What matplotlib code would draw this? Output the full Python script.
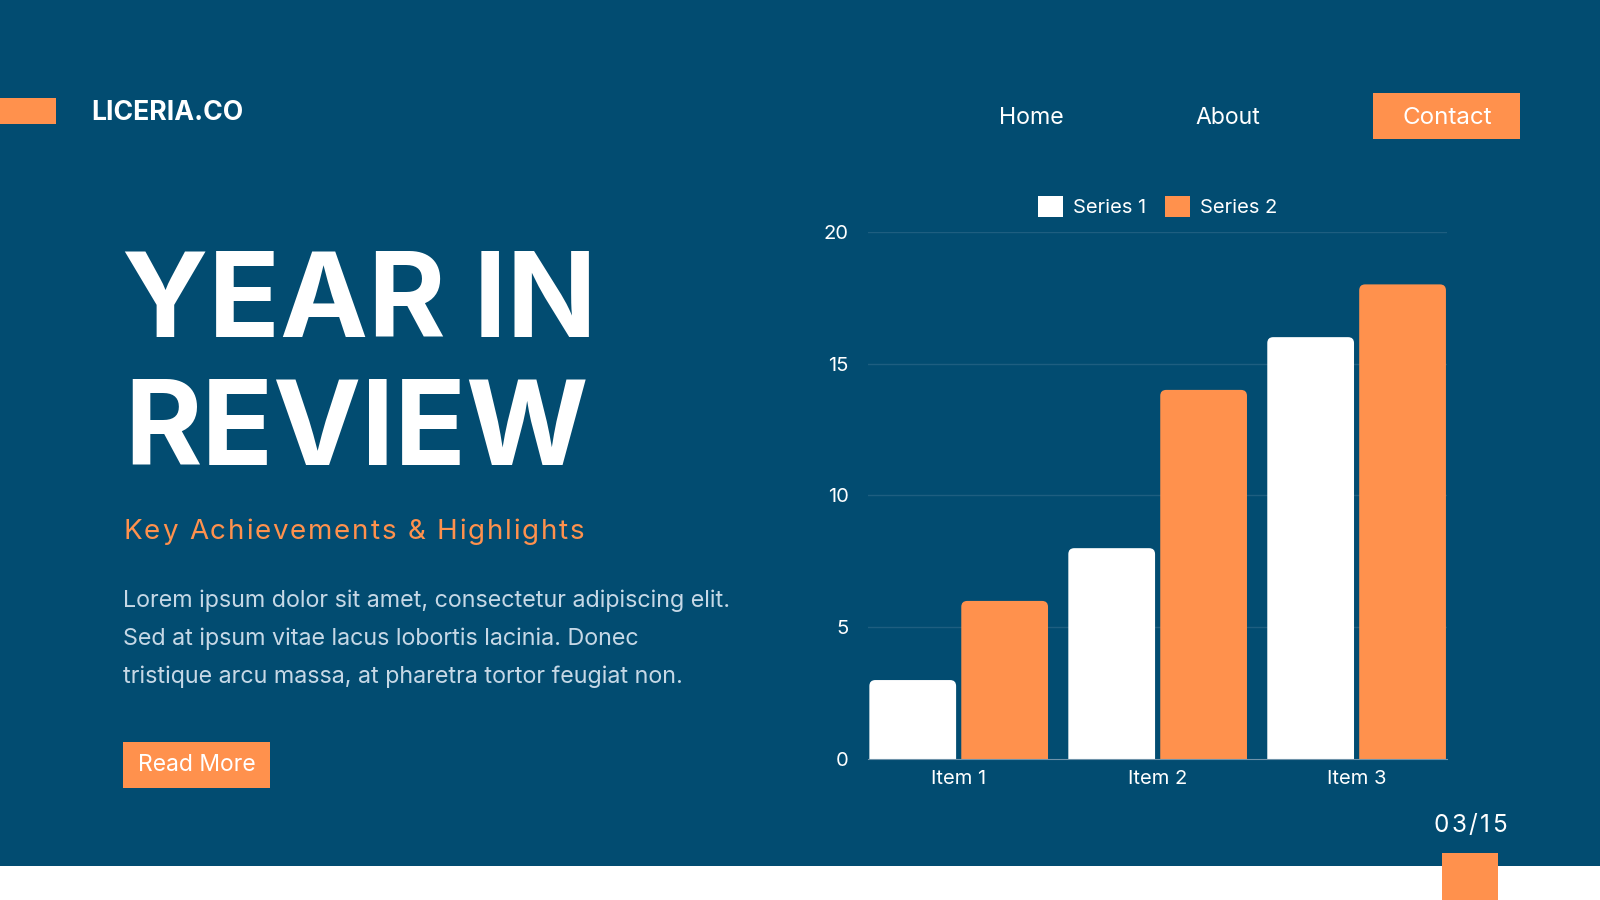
import numpy as np
import matplotlib
matplotlib.use("Agg")
import matplotlib.pyplot as plt
from matplotlib.patches import Rectangle, FancyBboxPatch

# reference canvas size (layout is written in these pixel units)
W, H = 1568, 882
S = 1600 / W

items = ["Item 1", "Item 2", "Item 3"]
series1 = [3, 8, 16]
series2 = [6, 14, 18]
series_names = ["Series 1", "Series 2"]
yticks = [0, 5, 10, 15, 20]
nav_links = ["Home", "About"]
para = ["Lorem ipsum dolor sit amet, consectetur adipiscing elit.",
        "Sed at ipsum vitae lacus lobortis lacinia. Donec",
        "tristique arcu massa, at pharetra tortor feugiat non."]

NAVY = "#024C71"
ORANGE = "#FF914D"
PARA = "#C6D8E6"
GRID = "#1E5E80"

plt.rcParams["font.family"] = ["Inter", "DejaVu Sans"]

fig = plt.figure(figsize=(16, 9), dpi=100, facecolor=NAVY)
bg = fig.add_axes([0, 0, 1, 1])
bg.set_xlim(0, W)
bg.set_ylim(H, 0)
bg.axis("off")
rend = fig.canvas.get_renderer()


def width_of(s, fs, **kw):
    t = bg.text(0, 0, s, fontsize=fs, **kw)
    w = t.get_window_extent(rend).width / S
    t.remove()
    return w


def fit(s, x0, x1, y, va="baseline", fs=None, **kw):
    # scale font so the text spans x0..x1
    if fs is None:
        fs = 10 * (x1 - x0) / width_of(s, 10, **kw)
    bg.text(x0, y, s, fontsize=fs, va=va, ha="left", **kw)
    return fs


def tracked(s, x0, x1, y, fs, va="baseline", **kw):
    # letter-spaced text: place chars one by one
    bar = width_of("|", fs, **kw)
    pos = [width_of(s[:i] + "|", fs, **kw) - bar if i else 0 for i in range(len(s))]
    full = width_of(s, fs, **kw)
    tr = max(0, (x1 - x0 - full) / (len(s) - 1))
    for i, ch in enumerate(s):
        bg.text(x0 + pos[i] + tr * i, y, ch, fontsize=fs, va=va, ha="left", **kw)


# header
bg.add_patch(Rectangle((0, 96), 55, 26, color=ORANGE, lw=0))
fit("LICERIA.CO", 89, 238, 118, color="white", fontweight="bold")
nav_x = [(979, 1043), (1172, 1236)]
for name, (a, b) in zip(nav_links, nav_x):
    fit(name, a, b, 122, color="white")
bg.add_patch(Rectangle((1346, 91), 144, 45, color=ORANGE, lw=0))
fit("Contact", 1374, 1462, 122, color="white")

# title block
fit("YEAR IN", 120, 563, 330, fs=85, color="white", fontweight="bold")
fit("REVIEW", 122, 566, 456, fs=85, color="white", fontweight="bold")
tracked("Key Achievements & Highlights", 121, 573, 528, 20, color=ORANGE)
pfs = fit(para[0], 121, 722, 595, color=PARA)
fit(para[1], 121, 722, 632, fs=pfs, color=PARA)
fit(para[2], 121, 722, 669, fs=pfs, color=PARA)
bg.add_patch(Rectangle((121, 727), 144, 45, color=ORANGE, lw=0))
fit("Read More", 135, 251, 756, color="white")

# footer
tracked("03/15", 1405, 1477, 815, 17.5, color="white")
bg.add_patch(Rectangle((0, 849), W, H - 849, color="white", lw=0))
bg.add_patch(Rectangle((1413, 836), 55, H - 836, color=ORANGE, lw=0))

# chart
ax = fig.add_axes([851 / W, 1 - 744 / H, (1418 - 851) / W, (744 - 227) / H])
ax.set_facecolor("none")
x = np.arange(len(items))
bw, gap = 0.436, 0.026
b1 = ax.bar(x - (bw + gap) / 2, series1, bw, color="white", label=series_names[0], zorder=3)
b2 = ax.bar(x + (bw + gap) / 2, series2, bw, color=ORANGE, label=series_names[1], zorder=3)
ax.set_xlim(-0.454, 2.454)
ax.set_ylim(0, 20)
ax.set_yticks(yticks)
ax.set_xticks(x, items)
for v in yticks[1:]:
    ax.axhline(v, color=GRID, lw=1, zorder=1)
for sp in ax.spines.values():
    sp.set_visible(False)
ax.spines["bottom"].set_visible(True)
ax.spines["bottom"].set_color("#6F93AA")
ax.spines["bottom"].set_zorder(4)
ax.tick_params(axis="both", length=0, colors="white", labelsize=14.5)
ax.tick_params(axis="y", pad=14)
ax.tick_params(axis="x", pad=8)
leg = ax.legend(loc="center", bbox_to_anchor=(0.5, 1.048), ncol=2, frameon=False,
                fontsize=14.5, labelcolor="white", handlelength=1.25, handleheight=1.25,
                handletextpad=0.5, columnspacing=0.9)

# swap the plain bars for ones with rounded top corners
aspect = (20 / 517) / (2.908 / 567)
for cont in (b1, b2):
    for p in cont.patches:
        rb = FancyBboxPatch((p.get_x(), -1), p.get_width(), p.get_height() + 1,
                            boxstyle="round,pad=0,rounding_size=0.03",
                            mutation_aspect=aspect, fc=p.get_facecolor(), lw=0, zorder=3)
        ax.add_patch(rb)
        p.set_visible(False)

fig.savefig("out.png", dpi=100, facecolor=NAVY)
